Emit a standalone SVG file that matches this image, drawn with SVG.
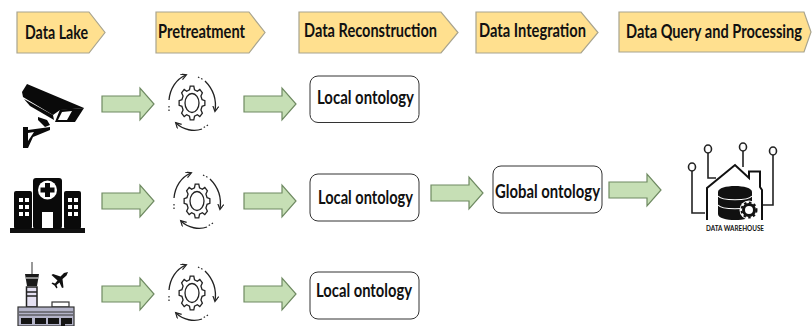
<svg xmlns="http://www.w3.org/2000/svg" xmlns:xlink="http://www.w3.org/1999/xlink" width="812" height="326" viewBox="0 0 812 326">
<style>
.stage{fill:#FFE08F;stroke:#A8A48F;stroke-width:1.2}
.arrow{fill:#C6DFB5;stroke:#6F8A62;stroke-width:1.2}
.box{fill:#fff;stroke:#333;stroke-width:1}
text{font-family:Lato,"Liberation Sans",sans-serif;font-weight:700;fill:#111;font-size:18px}
.ln{fill:none;stroke:#222;stroke-width:1.3}
.dash{fill:none;stroke:#222;stroke-width:1.2;stroke-dasharray:1.5 2}
.wire{fill:none;stroke:#222;stroke-width:1.6}
.pin{fill:#fff;stroke:#222;stroke-width:1.6}
</style>
<defs>
<marker id="ah" markerWidth="8" markerHeight="8" refX="5" refY="3" orient="auto" markerUnits="userSpaceOnUse"><path d="M0 0L5.500 3L0 6" fill="none" stroke="#222" stroke-width="1.200"/></marker>
<path id="arr" class="arrow" d="M0-8H38V-16L52 0L38 16V8H0Z"/>
<g id="gear">
<polygon class="ln" style="vector-effect:non-scaling-stroke" transform="scale(1.3 1.7)" points="7.76,-1.94 9.9,-1.39 9.9,1.39 7.76,1.94 6.86,4.12 7.99,6.02 6.02,7.99 4.12,6.86 1.94,7.76 1.39,9.9 -1.39,9.9 -1.94,7.76 -4.12,6.86 -6.02,7.99 -7.99,6.02 -6.86,4.12 -7.76,1.94 -9.9,1.39 -9.9,-1.39 -7.76,-1.94 -6.86,-4.12 -7.99,-6.02 -6.02,-7.99 -4.12,-6.86 -1.94,-7.76 -1.39,-9.9 1.39,-9.9 1.94,-7.76 4.12,-6.86 6.02,-7.99 7.99,-6.02 6.86,-4.12"/>
<ellipse class="ln" rx="7" ry="9.500"/>
<path class="dash" d="M-23 8L-23 2"/>
<path class="ln" marker-end="url(#ah)" d="M-23-3C-22-14-16-24-6-28"/>
<path class="dash" d="M6-26L12-23"/>
<path class="ln" marker-end="url(#ah)" d="M13-22C20-15 25-5 23 8"/>
<path class="dash" d="M16 22L11 25"/>
<path class="ln" marker-end="url(#ah)" d="M10 26C2 29-9 27-16 20"/>
</g>
</defs>

<g id="stage-data-lake"><path class="stage" d="M17 12H89L105 32.500L89 53H17Z"/><text x="25" y="39" textLength="63" lengthAdjust="spacingAndGlyphs">Data Lake</text></g>
<g id="stage-pretreatment"><path class="stage" d="M156 12H249L265 32.500L249 53H156Z"/><text x="158" y="38" textLength="87" lengthAdjust="spacingAndGlyphs">Pretreatment</text></g>
<g id="stage-reconstruction"><path class="stage" d="M299 12H441L458 32.500L441 53H299Z"/><text x="304" y="37" textLength="133" lengthAdjust="spacingAndGlyphs">Data Reconstruction</text></g>
<g id="stage-integration"><path class="stage" d="M476 12H581L598 32.500L581 53H476Z"/><text x="479" y="37" textLength="107" lengthAdjust="spacingAndGlyphs">Data Integration</text></g>
<g id="stage-query"><path class="stage" d="M619 12H804L811 32L804 52H619Z"/><text x="626" y="38" textLength="176" lengthAdjust="spacingAndGlyphs">Data Query and Processing</text></g>

<g id="connectors">
<use xlink:href="#arr" href="#arr" x="102" y="104"/>
<use xlink:href="#arr" href="#arr" x="244" y="104"/>
<use xlink:href="#arr" href="#arr" x="102" y="201"/>
<use xlink:href="#arr" href="#arr" x="244" y="201"/>
<use xlink:href="#arr" href="#arr" x="102" y="294"/>
<use xlink:href="#arr" href="#arr" x="244" y="294"/>
<use xlink:href="#arr" href="#arr" x="431" y="193"/>
<use xlink:href="#arr" href="#arr" x="609" y="190"/>
</g>

<g id="camera" fill="#0a0a0a">
<path d="M27 84L84 108L60 110L53 115L23 97L22 92Z"/>
<path d="M60 109.500L84 108L75 122L55 122Z"/>
<path fill="#fff" d="M62 112L72 111L67 120L58 120Z"/>
<path d="M24 99L53 115L54 120L30 106Z"/>
<path d="M38 117L47 120L50 125L45 127L38 120Z"/>
<path d="M23 127L28 127L28 130L50 127L50 130L33 137L28 148L23 148Z"/>
<path fill="#fff" d="M28 133L34 132L28 141Z"/>
</g>
<g id="hospital">
<rect x="10" y="228" width="75" height="5" fill="#111"/>
<rect x="14" y="191" width="18" height="38" rx="2" fill="#0a0a0a"/>
<rect x="64" y="191" width="17" height="38" rx="2" fill="#0a0a0a"/>
<rect x="33" y="178" width="29" height="51" rx="3" fill="#0a0a0a"/>
<circle cx="47.500" cy="190" r="9.500" fill="#fff"/>
<path fill="#0a0a0a" d="M45 183H50V187.500H54.500V192.500H50V197H45V192.500H40.500V187.500H45Z"/>
<rect x="42" y="212" width="11" height="16" fill="#fff"/>
<g fill="#fff"><rect x="19" y="198" width="4" height="4"/><rect x="25" y="198" width="4" height="4"/><rect x="19" y="205" width="4" height="4"/><rect x="25" y="205" width="4" height="4"/><rect x="19" y="212" width="4" height="4"/><rect x="25" y="212" width="4" height="4"/><rect x="68" y="198" width="4" height="4"/><rect x="74" y="198" width="4" height="4"/><rect x="68" y="205" width="4" height="4"/><rect x="74" y="205" width="4" height="4"/><rect x="68" y="212" width="4" height="4"/><rect x="74" y="212" width="4" height="4"/></g>
</g>
<g id="airport">
<path d="M32 262V274" stroke="#555" stroke-width="1.200"/>
<path fill="#1a1a1a" d="M25 274H39L37 286H27Z"/>
<path d="M26 278H38" stroke="#fff" stroke-width="1"/>
<rect x="26.500" y="287" width="10.500" height="20" fill="#E4E0F2" stroke="#222" stroke-width="1.500"/>
<path d="M26 292H37M26 296H37" stroke="#222" stroke-width="1.500"/>
<rect x="52" y="302" width="17" height="5" fill="#fff" stroke="#333" stroke-width="1.200"/>
<rect x="18" y="307" width="56" height="19" fill="#B3B3C8" stroke="#333" stroke-width="1.200"/>
<path d="M19 312H73M19 315H73" stroke="#333" stroke-width="1"/>
<g fill="#141414"><rect x="21" y="318" width="11" height="6"/><rect x="35" y="318" width="11" height="6"/><rect x="48" y="318" width="11" height="6"/><rect x="62" y="318" width="10" height="6"/><rect x="61" y="318" width="4" height="8"/></g>
<path fill="#111" d="M68 272L64 273L60.500 276.500L53 274L51.500 275L57.500 280.500L55 283.500L52.500 282.500L51.500 283.500L54.500 285.500L56.500 288.500L57.500 287.500L56.500 285L59.500 282.500L62 288L63.500 287.500L62.500 279L66.500 275.500Z"/>
</g>

<g id="pretreat-1"><use xlink:href="#gear" href="#gear" x="192" y="103"/></g>
<g id="pretreat-2"><use xlink:href="#gear" href="#gear" x="197" y="201"/></g>
<g id="pretreat-3"><use xlink:href="#gear" href="#gear" x="192" y="293"/></g>

<g id="local-1"><rect class="box" x="310" y="76" width="109" height="46.500" rx="8"/><text x="317" y="104" textLength="97" lengthAdjust="spacingAndGlyphs">Local ontology</text></g>
<g id="local-2"><rect class="box" x="310" y="174" width="109" height="47" rx="8"/><text x="318" y="204" textLength="95" lengthAdjust="spacingAndGlyphs">Local ontology</text></g>
<g id="local-3"><rect class="box" x="310" y="272" width="109" height="47" rx="8"/><text x="316" y="297" textLength="96" lengthAdjust="spacingAndGlyphs">Local ontology</text></g>
<g id="global"><rect class="box" x="493" y="166" width="109" height="47" rx="8"/><text x="495" y="198" textLength="105" lengthAdjust="spacingAndGlyphs">Global ontology</text></g>

<g id="data-warehouse">
<path class="wire" d="M692 171V213H705M708 153V178H716M743 151V167M773 155V205H762"/>
<ellipse class="pin" cx="692" cy="167" rx="3.500" ry="4"/>
<ellipse class="pin" cx="708" cy="149" rx="3.500" ry="4"/>
<ellipse class="pin" cx="743" cy="147" rx="3.500" ry="4"/>
<ellipse class="pin" cx="773" cy="151" rx="3.500" ry="4"/>
<path fill="none" stroke="#111" stroke-width="2" d="M707 220V188L735 165L749 178V171.500H760V187L762 190V220"/>
<path fill="#111" d="M718 192C718 184 752 184 752 192V214C752 222 718 222 718 214Z"/>
<path fill="none" stroke="#fff" stroke-width="1.200" d="M718 196C722 201 748 201 752 196M718 205C722 210 748 210 752 205"/>
<circle cx="749" cy="210" r="9.500" fill="#fff"/>
<circle cx="749" cy="210" r="5.500" fill="none" stroke="#111" stroke-width="3"/>
<circle cx="749" cy="210" r="7.500" fill="none" stroke="#111" stroke-width="2" stroke-dasharray="2.500 2.500"/>
<text x="706" y="231" textLength="58" lengthAdjust="spacingAndGlyphs" style="font-size:7.500px">DATA WAREHOUSE</text>
</g>
</svg>
